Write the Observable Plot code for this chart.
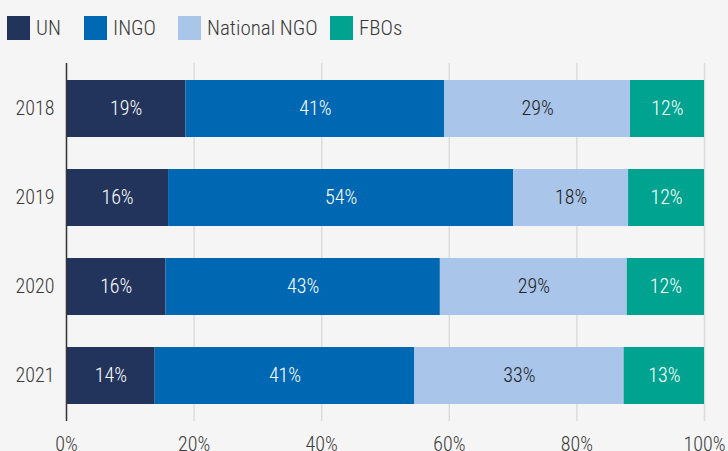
<!DOCTYPE html>
<html><head><meta charset="utf-8">
<script src="https://cdn.jsdelivr.net/npm/d3@7"></script>
<script src="https://cdn.jsdelivr.net/npm/@observablehq/plot@0.6"></script>
<style>
html,body{margin:0;padding:0;background:#f5f5f5;overflow:hidden;}
body{width:728px;height:451px;font-family:"Roboto Condensed",Roboto,sans-serif;}
#legend{position:relative;height:55px;}
.item{position:absolute;top:16px;display:flex;align-items:center;font-size:21px;color:#3a3a3a;height:24px;font-weight:300;}
.sw{width:23px;height:24px;margin-right:6px;}
</style></head>
<body><div id="legend"></div><div id="chart"></div>
<script>
const years = ["2018","2019","2020","2021"];
const groups = ["UN","INGO","National NGO","FBOs"];
const colors = ["#22345c","#0068b2","#a9c5e9","#00a38f"];
const UN = [18.7,16.0,15.6,13.9];
const INGO = [40.6,54.1,43.0,40.7];
const NationalNGO = [29.1,18.0,29.3,32.8];
const FBOs = [11.6,11.9,12.1,12.6];
const xTicks = [0,20,40,60,80,100];

const series = [UN, INGO, NationalNGO, FBOs];
const data = [];
years.forEach((y, i) => groups.forEach((g, j) => data.push({year: y, group: g, value: series[j][i]})));

const legendLeft = [7, 84, 178, 330];
const legend = document.getElementById("legend");
groups.forEach((g, j) => {
  const it = document.createElement("div");
  it.className = "item";
  it.style.left = legendLeft[j] + "px";
  it.innerHTML = `<div class="sw" style="background:${colors[j]}"></div><span>${g}</span>`;
  legend.appendChild(it);
});

const fmt = d => Math.round(d.value) + "%";
const font = '"Roboto Condensed",Roboto,sans-serif';
const chart = Plot.plot({
  width: 728, height: 396,
  marginLeft: 66, marginRight: 24, marginTop: 8, marginBottom: 30,
  style: {background: "transparent", fontFamily: font, fontSize: "20px", fontWeight: 300, color: "#3a3a3a"},
  x: {domain: [0, 100], ticks: xTicks, tickFormat: d => d + "%", tickSize: 0, tickPadding: 15, label: null},
  y: {domain: years, paddingInner: 0.36, paddingOuter: 0.18, tickSize: 0, tickPadding: 12, label: null},
  color: {domain: groups, range: colors},
  marks: [
    Plot.ruleX(xTicks.slice(1), {stroke: "#dcdcdc", strokeWidth: 1.5}),
    Plot.barX(data, {x: "value", y: "year", fill: "group", z: "group"}),
    Plot.text(data, Plot.stackX({x: "value", y: "year", z: "group", text: d => d.group === "National NGO" ? "" : fmt(d), fill: "white", fontSize: 20, fontWeight: 300})),
    Plot.text(data, Plot.stackX({x: "value", y: "year", z: "group", text: d => d.group === "National NGO" ? fmt(d) : "", fill: "#222", fontSize: 20, fontWeight: 300})),
    Plot.ruleX([0], {stroke: "#333", strokeWidth: 1.5})
  ]
});
document.getElementById("chart").appendChild(chart);
</script>
</body></html>
